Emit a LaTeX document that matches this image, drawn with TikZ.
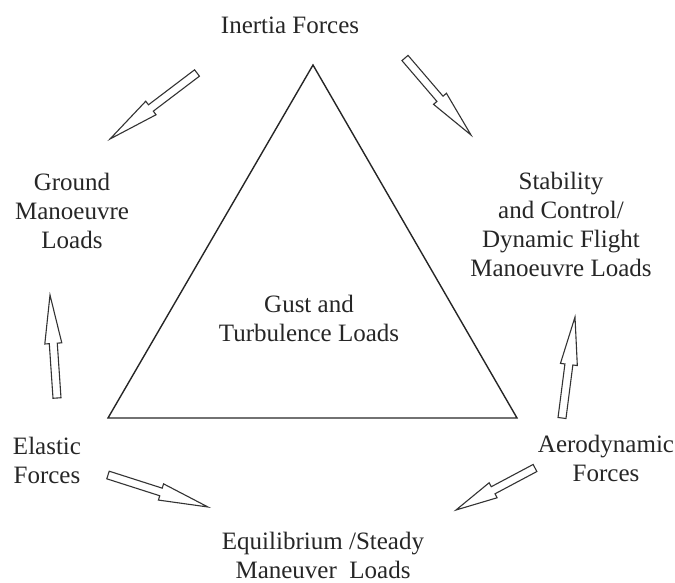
\documentclass[tikz,border=0pt]{standalone}
\usepackage{fontspec}
\setmainfont{Liberation Serif}
\newfontfamily\lblfont{Liberation Serif}
\usetikzlibrary{calc}
\tikzset{
  lbl/.style={align=center, font=\lblfont\fontsize{25}{29}\selectfont, text=black!85, inner sep=0pt},
  tri/.style={draw=black!85, line width=1.4pt, line join=miter},
  fatarr/.style={draw=black!80, line width=1.1pt, fill=white, line join=miter}
}
\newcommand\fatarrow[2]{%
  \path coordinate (sh) at ($(#1)!0.53!(#2)$);
  \draw[fatarr] ($(#1)!4pt!90:(#2)$) -- ($(sh)!4pt!90:(#2)$) -- ($(sh)!8.5pt!90:(#2)$)
    -- (#2) -- ($(sh)!8.5pt!-90:(#2)$) -- ($(sh)!4pt!-90:(#2)$) -- ($(#1)!4pt!-90:(#2)$) -- cycle;}
\begin{document}
\begin{tikzpicture}[x=1pt,y=-1pt]
\useasboundingbox (0,0) rectangle (675,583);
% triangle
\coordinate (ta) at (313,65);
\coordinate (tl) at (108,418);
\coordinate (tr) at (517,418);
\draw[tri] (ta) -- (tl) -- (tr) -- cycle;
% labels
\node[lbl] (inertia) at (290,25) {Inertia Forces};
\node[lbl] (ground) at (72,211) {Ground\\Manoeuvre\\Loads};
\node[lbl] (stab) at (561,224) {Stability\\and Control/\\Dynamic Flight\\Manoeuvre Loads};
\node[lbl] (gust) at (309,318) {Gust and\\Turbulence Loads};
\node[lbl] (elastic) at (47,460) {Elastic\\Forces};
\node[lbl] (aero) at (606,458) {Aerodynamic\\Forces};
\node[lbl] (equil) at (323,555) {Equilibrium /Steady\\Maneuver \ Loads};
% arrows
\coordinate (a1s) at (197,73); \coordinate (a1e) at (110,139);
\coordinate (a2s) at (405,58); \coordinate (a2e) at (471,135);
\coordinate (a3s) at (57,398); \coordinate (a3e) at (50,295);
\coordinate (a4s) at (562,418); \coordinate (a4e) at (575,317);
\coordinate (a5s) at (108,475); \coordinate (a5e) at (208,507);
\coordinate (a6s) at (535,468); \coordinate (a6e) at (456,510);
\fatarrow{a1s}{a1e}
\fatarrow{a2s}{a2e}
\fatarrow{a3s}{a3e}
\fatarrow{a4s}{a4e}
\fatarrow{a5s}{a5e}
\fatarrow{a6s}{a6e}
\end{tikzpicture}
\end{document}
